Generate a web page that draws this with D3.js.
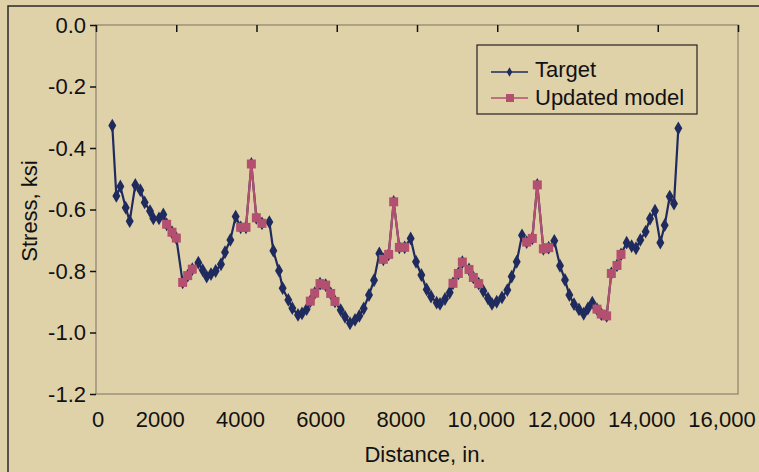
<!DOCTYPE html>
<html>
<head>
<meta charset="utf-8">
<script src="https://cdn.jsdelivr.net/npm/d3@7"></script>
<style>
  html, body { margin: 0; padding: 0; background: #e0d2a8; }
  svg { display: block; font-family: "Liberation Sans", Arial, sans-serif; }
</style>
</head>
<body>
<svg id="chart" width="759" height="472"></svg>
<script>
// distance along the girder (in.)
var distance = [406,507,607,740,840,980,1105,1213,1346,1429,1570,1678,1761,1894,2002,2160,2285,2400,2550,2658,
  2758,2866,2982,3115,3215,3348,3481,3605,3738,3872,3996,4137,4320,4420,4561,4652,4793,4893,5034,5134,
  5250,5341,5450,5583,5724,5849,5956,6098,6206,6330,6455,6563,6672,6804,6929,7061,7161,7294,7419,7560,
  7693,7842,7975,8108,8241,8349,8490,8573,8698,8815,8897,9030,9130,9296,9404,9538,9653,9769,9869,9986,
  10118,10251,10360,10485,10617,10733,10874,10998,11149,11282,11422,11564,11688,11797,11913,12037,12154,12260,12369,12486,
  12593,12726,12843,12984,13084,13225,13349,13458,13566,13698,13807,13931,14064,14173,14298,14405,14513];

// target stresses (ksi)
var target = [-0.327,-0.556,-0.525,-0.594,-0.638,-0.520,-0.537,-0.577,-0.605,-0.629,-0.629,-0.616,-0.648,-0.674,-0.693,-0.837,-0.815,-0.794,-0.773,-0.797,
  -0.818,-0.810,-0.800,-0.778,-0.739,-0.699,-0.623,-0.658,-0.658,-0.452,-0.627,-0.645,-0.641,-0.734,-0.799,-0.856,-0.894,-0.921,-0.943,-0.938,
  -0.924,-0.898,-0.872,-0.841,-0.846,-0.873,-0.899,-0.927,-0.949,-0.970,-0.959,-0.946,-0.922,-0.878,-0.830,-0.743,-0.762,-0.746,-0.575,-0.723,
  -0.723,-0.694,-0.770,-0.813,-0.860,-0.883,-0.903,-0.907,-0.891,-0.870,-0.840,-0.808,-0.771,-0.795,-0.821,-0.841,-0.865,-0.889,-0.907,-0.900,
  -0.886,-0.862,-0.818,-0.770,-0.684,-0.706,-0.694,-0.520,-0.728,-0.724,-0.702,-0.783,-0.829,-0.878,-0.908,-0.925,-0.939,-0.922,-0.903,-0.924,
  -0.940,-0.946,-0.808,-0.782,-0.746,-0.708,-0.719,-0.726,-0.699,-0.672,-0.630,-0.604,-0.708,-0.651,-0.558,-0.581,-0.336];

// updated model stresses (ksi), only where the model was updated
var updated = [null,null,null,null,null,null,null,null,null,null,null,null,-0.648,-0.674,-0.693,null,-0.815,-0.794,null,null,
  null,null,null,null,null,null,null,-0.658,-0.658,-0.452,-0.627,-0.645,null,null,null,null,null,null,null,null,
  null,-0.898,-0.872,-0.841,-0.846,-0.873,-0.899,null,null,null,null,null,null,null,null,null,-0.762,-0.746,-0.575,-0.723,
  -0.723,null,null,null,null,null,null,null,null,null,-0.840,-0.808,-0.771,-0.795,-0.821,-0.841,null,null,null,null,
  null,null,null,null,null,-0.706,-0.694,-0.520,-0.728,-0.724,null,null,null,null,null,null,null,null,null,-0.924,
  -0.940,-0.946,-0.808,-0.782,-0.746,null,null,null,null,null,null,null,null,null,null,null,null];
// the first point after the drop at 2160 is a separate pink run
var updatedLone = [[2160, -0.837]];

var xTicks = [0,2000,4000,6000,8000,10000,12000,14000,16000];
var xTickLabels = ["0","2000","4000","6000","8000","10,000","12,000","14,000","16,000"];
var yTicks = [0,-0.2,-0.4,-0.6,-0.8,-1.0,-1.2];

(function () {
  var navy = "#1f2a5e", pink = "#b3506f";

  var svg = d3.select("#chart");
  var pLeft = 96, pRight = 738, pTop = 25, pBottom = 394;

  var x = d3.scaleLinear().domain([0, 16000]).range([pLeft, pRight]);
  var y = d3.scaleLinear().domain([-1.2, 0]).range([pBottom, pTop]);

  // outer frame (right/bottom edges fall outside the picture)
  svg.append("rect")
    .attr("x", 8).attr("y", 6).attr("width", 800).attr("height", 500)
    .attr("fill", "none").attr("stroke", "#2a2a2a").attr("stroke-width", 1.5);

  // plot area border
  svg.append("rect")
    .attr("x", pLeft).attr("y", pTop).attr("width", pRight - pLeft).attr("height", pBottom - pTop)
    .attr("fill", "none").attr("stroke", "#8a8270").attr("stroke-width", 1.2);

  // x ticks sit on the zero line at the top
  var xAxis = svg.append("g")
    .attr("transform", "translate(0," + pTop + ")")
    .call(d3.axisBottom(x).tickValues(xTicks).tickSize(7).tickFormat(""));
  xAxis.select(".domain").remove();
  xAxis.selectAll("line").attr("stroke", "#111").attr("stroke-width", 1.5);

  // x tick labels along the bottom
  svg.append("g").selectAll("text")
    .data(xTicks)
    .join("text")
    .attr("x", d => x(d) + (d === 0 ? 2 : -16))
    .attr("y", 427)
    .attr("text-anchor", "middle")
    .attr("font-size", 22)
    .attr("fill", "#111")
    .text((d, i) => xTickLabels[i]);

  // y axis
  var yAxis = svg.append("g")
    .attr("transform", "translate(" + pLeft + ",0)")
    .call(d3.axisLeft(y).tickValues(yTicks).tickSize(6).tickPadding(4)
      .tickFormat(d => d === 0 ? "0.0" : d.toFixed(1)));
  yAxis.select(".domain").remove();
  yAxis.selectAll("line").attr("stroke", "#111").attr("stroke-width", 1.5);
  yAxis.selectAll("text").attr("font-size", 22).attr("fill", "#111")
    .attr("font-family", "Liberation Sans, Arial, sans-serif");

  // axis titles
  svg.append("text")
    .attr("x", 425).attr("y", 462)
    .attr("text-anchor", "middle").attr("font-size", 22).attr("fill", "#111")
    .text("Distance, in.");
  svg.append("text")
    .attr("transform", "translate(37,211) rotate(-90)")
    .attr("text-anchor", "middle").attr("font-size", 22).attr("fill", "#111")
    .text("Stress, ksi");

  var targetPts = distance.map((d, i) => [d, target[i]]);
  var updatedPts = distance.map((d, i) => [d, updated[i]]);

  var line = d3.line()
    .defined(d => d[1] != null)
    .x(d => x(d[0]))
    .y(d => y(d[1]));

  var diamond = d3.symbol().type(d3.symbolDiamond).size(55);

  // target series
  svg.append("path")
    .attr("d", line(targetPts))
    .attr("fill", "none").attr("stroke", navy).attr("stroke-width", 2.2);
  svg.append("g").selectAll("path")
    .data(targetPts)
    .join("path")
    .attr("transform", d => "translate(" + x(d[0]) + "," + y(d[1]) + ")")
    .attr("d", diamond)
    .attr("fill", navy);

  // updated model series
  svg.append("path")
    .attr("d", line(updatedPts))
    .attr("fill", "none").attr("stroke", pink).attr("stroke-width", 2.2);
  var sq = 9;
  svg.append("g").selectAll("rect")
    .data(updatedPts.filter(d => d[1] != null).concat(updatedLone))
    .join("rect")
    .attr("x", d => x(d[0]) - sq / 2)
    .attr("y", d => y(d[1]) - sq / 2)
    .attr("width", sq).attr("height", sq)
    .attr("fill", pink);

  // legend
  var lg = svg.append("g");
  lg.append("rect")
    .attr("x", 477).attr("y", 45).attr("width", 220).attr("height", 69)
    .attr("fill", "none").attr("stroke", "#222").attr("stroke-width", 1.2);
  lg.append("line").attr("x1", 491).attr("x2", 528).attr("y1", 72).attr("y2", 72)
    .attr("stroke", navy).attr("stroke-width", 1.5);
  lg.append("path").attr("transform", "translate(509.5,72)")
    .attr("d", d3.symbol().type(d3.symbolDiamond).size(26)).attr("fill", navy);
  lg.append("line").attr("x1", 491).attr("x2", 528).attr("y1", 98).attr("y2", 98)
    .attr("stroke", pink).attr("stroke-width", 1.5);
  lg.append("rect").attr("x", 506).attr("y", 94).attr("width", 8).attr("height", 8).attr("fill", pink);
  lg.append("text").attr("x", 535).attr("y", 77).attr("font-size", 22).attr("fill", "#111").text("Target");
  lg.append("text").attr("x", 535).attr("y", 105).attr("font-size", 22).attr("fill", "#111").text("Updated model");
})();
</script>
</body>
</html>
